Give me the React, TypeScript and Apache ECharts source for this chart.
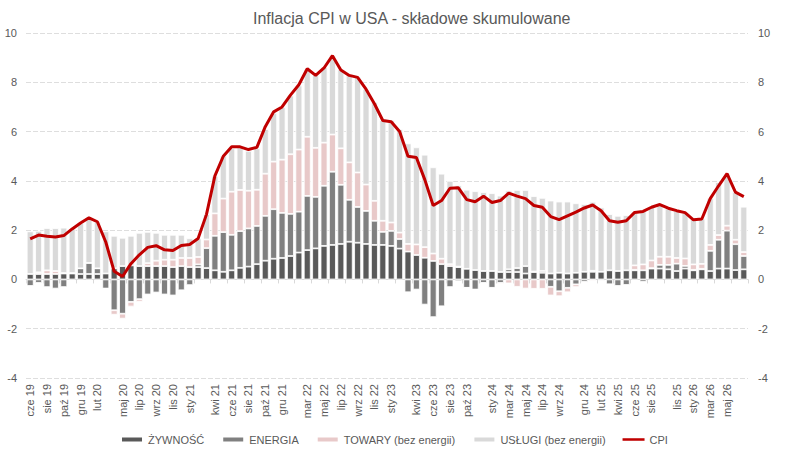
import React, { useEffect, useRef } from 'react';
import * as echarts from 'echarts';

const categories = [
  'cze 19', 'lip 19', 'sie 19', 'wrz 19', 'paź 19', 'lis 19', 'gru 19',
  'sty 20', 'lut 20', 'mar 20', 'kwi 20', 'maj 20', 'cze 20', 'lip 20', 'sie 20', 'wrz 20', 'paź 20', 'lis 20', 'gru 20',
  'sty 21', 'lut 21', 'mar 21', 'kwi 21', 'maj 21', 'cze 21', 'lip 21', 'sie 21', 'wrz 21', 'paź 21', 'lis 21', 'gru 21',
  'sty 22', 'lut 22', 'mar 22', 'kwi 22', 'maj 22', 'cze 22', 'lip 22', 'sie 22', 'wrz 22', 'paź 22', 'lis 22', 'gru 22',
  'sty 23', 'lut 23', 'mar 23', 'kwi 23', 'maj 23', 'cze 23', 'lip 23', 'sie 23', 'wrz 23', 'paź 23', 'lis 23', 'gru 23',
  'sty 24', 'lut 24', 'mar 24', 'kwi 24', 'maj 24', 'cze 24', 'lip 24', 'sie 24', 'wrz 24', 'paź 24', 'lis 24', 'gru 24',
  'sty 25', 'lut 25', 'mar 25', 'kwi 25', 'maj 25', 'cze 25', 'lip 25', 'sie 25', 'wrz 25', 'paź 25', 'lis 25', 'gru 25',
  'sty 26', 'lut 26', 'mar 26', 'kwi 26', 'maj 26', 'cze 26', 'lip 26',
];

const tickLabels = [
  'cze 19', 'sie 19', 'paź 19', 'gru 19', 'lut 20', 'maj 20', 'lip 20', 'wrz 20', 'lis 20', 'sty 21',
  'kwi 21', 'cze 21', 'sie 21', 'paź 21', 'gru 21', 'mar 22', 'maj 22', 'lip 22', 'wrz 22', 'lis 22',
  'sty 23', 'kwi 23', 'cze 23', 'sie 23', 'paź 23', 'sty 24', 'mar 24', 'maj 24', 'lip 24', 'wrz 24',
  'gru 24', 'lut 25', 'kwi 25', 'cze 25', 'sie 25', 'lis 25', 'sty 26', 'mar 26', 'maj 26',
];

const yTicks = [-4, 10, 2];

const food = [
  0.22, 0.22, 0.22, 0.22, 0.24, 0.24, 0.22, 0.22, 0.22, 0.24, 0.45, 0.54, 0.57, 0.54, 0.54, 0.54, 0.54, 0.5, 0.54,
  0.5, 0.5, 0.46, 0.37, 0.31, 0.37, 0.47, 0.52, 0.62, 0.76, 0.84, 0.87,
  0.95, 1.09, 1.19, 1.26, 1.36, 1.4, 1.44, 1.53, 1.49, 1.44, 1.4, 1.4,
  1.36, 1.25, 1.13, 0.99, 0.88, 0.75, 0.62, 0.54, 0.5, 0.43, 0.38, 0.34,
  0.34, 0.3, 0.3, 0.3, 0.24, 0.3, 0.27, 0.24, 0.27, 0.24, 0.27, 0.31,
  0.31, 0.31, 0.37, 0.34, 0.37, 0.37, 0.37, 0.44, 0.44, 0.41, 0.34, 0.44,
  0.37, 0.41, 0.34, 0.44, 0.44, 0.38, 0.41,
];

const energy = [
  -0.27, -0.14, -0.31, -0.37, -0.31, 0.02, 0.23, 0.45, 0.23, -0.37, -1.25, -1.39, -0.91, -0.8, -0.61, -0.53, -0.61, -0.65, -0.44,
  -0.23, 0.11, 0.81, 1.4, 1.61, 1.44, 1.49, 1.55, 1.55, 1.82, 2.01, 1.83,
  1.71, 1.66, 2.2, 2.09, 2.44, 2.97, 2.4, 1.7, 1.45, 1.34, 0.98, 0.53,
  0.61, 0.39, -0.52, -0.41, -1.02, -1.53, -1.09, -0.31, -0.07, -0.34, -0.41, -0.14,
  -0.34, -0.14, 0.11, 0.16, 0.3, 0.02, 0.07, -0.3, -0.48, -0.34, -0.2, -0.1,
  0.04, -0.05, -0.2, -0.27, -0.23, 0.02, -0.1, 0.02, 0.15, 0.18, 0.3, 0.11,
  0.02, 0.02, 0.82, 1.17, 1.54, 1.05, 0.54,
];

const goods = [
  0, 0.07, 0.15, 0.12, 0.02, 0, 0, 0, 0, 0, -0.18, -0.2, -0.19, -0.1, 0.12, 0.22, 0.26, 0.3, 0.33,
  0.37, 0.3, 0.35, 0.91, 1.36, 1.75, 1.67, 1.53, 1.47, 1.71, 1.93, 2.16,
  2.42, 2.52, 2.4, 1.99, 1.75, 1.51, 1.48, 1.52, 1.4, 1.07, 0.81, 0.45,
  0.34, 0.26, 0.31, 0.43, 0.43, 0.3, 0.22, 0.08, 0.02, 0, 0, -0.03,
  -0.03, -0.05, -0.16, -0.3, -0.37, -0.38, -0.38, -0.35, -0.2, -0.18, -0.11, -0.04,
  -0.05, -0.03, 0, 0, 0, 0.18, 0.24, 0.31, 0.33, 0.33, 0.23, 0.3,
  0.22, 0.2, 0.24, 0.19, 0.2, 0.18, 0.16,
];

const services = [
  1.73, 1.68, 1.71, 1.74, 1.84, 1.8, 1.84, 1.85, 1.89, 1.71, 1.32, 1.15, 1.2, 1.35, 1.27, 1.13, 1.01, 1.01, 0.94,
  0.8, 0.76, 1.03, 1.52, 1.74, 1.76, 1.73, 1.62, 1.68, 1.81, 1.98, 2.13,
  2.38, 2.6, 2.76, 2.96, 3.07, 3.21, 3.2, 3.53, 3.87, 3.88, 4.0, 4.09,
  4.16, 4.2, 4.08, 3.94, 3.75, 3.5, 3.45, 3.38, 3.3, 3.21, 3.2, 3.2,
  3.16, 3.1, 3.2, 3.17, 3.09, 3.06, 2.97, 2.96, 2.89, 2.92, 2.82, 2.75,
  2.8, 2.61, 2.28, 2.24, 2.24, 2.17, 2.21, 2.2, 2.14, 1.96, 1.92, 1.84,
  1.83, 1.84, 1.89, 2.15, 2.11, 1.93, 1.84,
];

const cpi = [
  1.65, 1.8, 1.75, 1.72, 1.78, 2.05, 2.29, 2.5, 2.34, 1.52, 0.33, 0.12, 0.64, 1.0, 1.3, 1.37, 1.2, 1.17, 1.38,
  1.42, 1.66, 2.64, 4.2, 5.0, 5.38, 5.38, 5.27, 5.36, 6.2, 6.8, 7.0,
  7.48, 7.9, 8.55, 8.28, 8.58, 9.08, 8.5, 8.28, 8.2, 7.72, 7.13, 6.45,
  6.4, 6.0, 5.0, 4.95, 4.05, 3.0, 3.2, 3.7, 3.72, 3.24, 3.15, 3.38,
  3.12, 3.2, 3.5, 3.38, 3.28, 3.0, 2.93, 2.55, 2.43, 2.58, 2.73, 2.9,
  3.02, 2.79, 2.38, 2.32, 2.38, 2.72, 2.76, 2.93, 3.04, 2.89, 2.79, 2.71,
  2.42, 2.45, 3.28, 3.8, 4.29, 3.54, 3.36,
];

export default function App() {
  const ref = useRef<HTMLDivElement>(null);

  useEffect(() => {
    document.body.style.margin = '0';
    const chart = echarts.init(ref.current as HTMLDivElement, null, { renderer: 'svg' });
    const font = "'Liberation Sans', Arial, sans-serif";
    const labelColor = '#595959';

    const barCommon = {
      type: 'bar',
      stack: 'total',
      barCategoryGap: '18%',
      xAxisIndex: 0,
      yAxisIndex: 0,
    };

    const yAxisCommon = {
      type: 'value',
      min: yTicks[0],
      max: yTicks[1],
      interval: yTicks[2],
      axisLine: { show: false },
      axisTick: { show: false },
      axisLabel: { color: labelColor, fontSize: 11, fontFamily: font, margin: 9 },
    };

    chart.setOption({
      animation: false,
      backgroundColor: '#ffffff',
      title: {
        text: 'Inflacja CPI w USA - składowe skumulowane',
        left: 253,
        top: 10,
        padding: 0,
        textStyle: { color: labelColor, fontSize: 16, fontWeight: 'normal', fontFamily: font },
      },
      grid: { left: 26, right: 44, top: 33, bottom: 76 },
      legend: {
        left: 120,
        top: 434,
        padding: 0,
        itemWidth: 22,
        itemHeight: 6,
        itemGap: 17,
        textStyle: { color: labelColor, fontSize: 11, fontFamily: font },
        data: [
          { name: 'ŻYWNOŚĆ', icon: 'rect' },
          { name: 'ENERGIA', icon: 'rect' },
          { name: 'TOWARY (bez energii)', icon: 'rect' },
          { name: 'USŁUGI (bez energii)', icon: 'rect' },
          { name: 'CPI', icon: 'path://M0,0H26V3H0Z', itemStyle: { color: '#c00000' } },
        ],
      },
      xAxis: [
        {
          type: 'category',
          data: categories,
          boundaryGap: true,
          axisLine: { show: true, onZero: true, lineStyle: { color: '#d9d9d9', width: 1 } },
          axisTick: { show: true, interval: 1, length: 4, lineStyle: { color: '#d9d9d9' } },
          axisLabel: { show: false },
          splitLine: { show: false },
        },
        {
          type: 'category',
          data: categories,
          position: 'bottom',
          boundaryGap: true,
          axisLine: { show: false, onZero: false },
          axisTick: { show: false },
          axisLabel: {
            show: true,
            rotate: 90,
            margin: 6,
            color: labelColor,
            fontSize: 11,
            fontFamily: font,
            interval: (_i: number, value: string) => tickLabels.includes(value),
          },
          splitLine: { show: false },
        },
      ],
      yAxis: [
        {
          ...yAxisCommon,
          position: 'left',
          splitLine: { show: true, lineStyle: { color: '#dedede', type: [5, 2], width: 1 } },
        },
        {
          ...yAxisCommon,
          position: 'right',
          splitLine: { show: false },
          axisLabel: { color: labelColor, fontSize: 11, fontFamily: font, margin: 10 },
        },
      ],
      series: [
        { ...barCommon, name: 'ŻYWNOŚĆ', data: food, itemStyle: { color: '#595959', borderColor: '#ffffff', borderWidth: 0.8 } },
        { ...barCommon, name: 'ENERGIA', data: energy, itemStyle: { color: '#808080', borderColor: '#ffffff', borderWidth: 0.8 } },
        { ...barCommon, name: 'TOWARY (bez energii)', data: goods, itemStyle: { color: '#e8c9c9', borderColor: '#ffffff', borderWidth: 0.8 } },
        { ...barCommon, name: 'USŁUGI (bez energii)', data: services, itemStyle: { color: '#d9d9d9', borderColor: '#ffffff', borderWidth: 0.8 } },
        {
          type: 'line',
          name: 'CPI',
          data: cpi,
          xAxisIndex: 0,
          yAxisIndex: 0,
          symbol: 'none',
          showSymbol: false,
          z: 10,
          itemStyle: { color: '#c00000' },
          lineStyle: { color: '#c00000', width: 3 },
        },
      ],
    });

    return () => chart.dispose();
  }, []);

  return <div ref={ref} style={{ width: 792, height: 454 }} />;
}
